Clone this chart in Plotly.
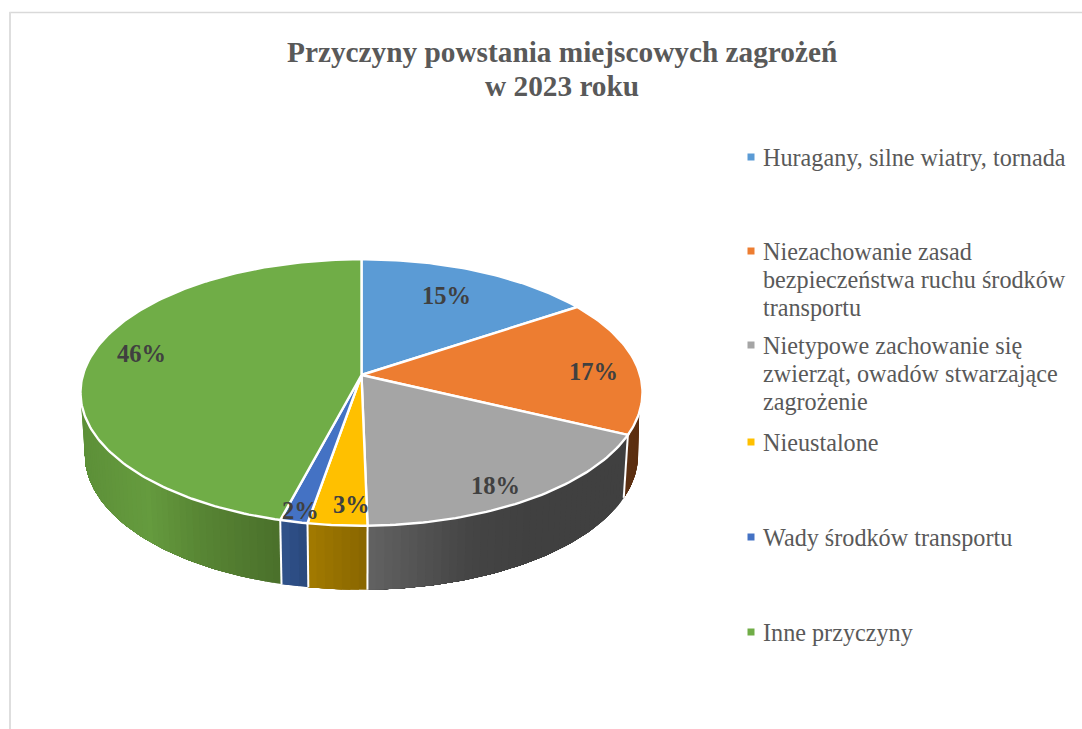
import math
import plotly.graph_objects as go

# ---- data ----
categories = ["Huragany, silne wiatry, tornada",
              "Niezachowanie zasad<br>bezpieczeństwa ruchu środków<br>transportu",
              "Nietypowe zachowanie się<br>zwierząt, owadów stwarzające<br>zagrożenie",
              "Nieustalone",
              "Wady środków transportu",
              "Inne przyczyny"]
percent_labels = [15, 17, 18, 3, 2, 46]
# slice shares as they appear in the drawing (the labels are the printed percentages)
values = [15.6, 16.5, 17.6, 3.0, 1.4, 45.9]
top_colors = ["#5B9BD5", "#ED7D31", "#A5A5A5", "#FFC000", "#4472C4", "#70AD47"]
# wall shading: (x pixel, colour) stops per slice
wall_stops = [
    [(361, (60, 100, 140))],
    [(625, (92, 48, 18)), (645, (92, 46, 15))],
    [(368, (98, 98, 98)), (470, (68, 68, 68)), (530, (64, 64, 64)), (630, (64, 64, 64))],
    [(310, (162, 122, 0)), (367, (136, 102, 0))],
    [(282, (48, 82, 140)), (310, (42, 72, 122))],
    [(81, (92, 143, 56)), (150, (101, 155, 62)), (200, (88, 134, 52)), (282, (74, 112, 43))],
]
label_pos = [(446, 295), (593, 371), (495, 485), (351, 504), (300, 510), (141, 353)]
legend_first_line_y = [157, 251, 345, 442, 537, 632]

# ---- projection of the pie disc to the page ----
CX, CY = 361.5, 375.0
C, A, K = -0.131, 131.0, 278.6
BX, BDY, BSY = 276.6 / 281.0, 62.5, 135.0 / 133.5
ELLIPSE_CY = 392.5


def top(theta):
    u, v = math.sin(math.radians(theta)), -math.cos(math.radians(theta))
    d = 1 + C * v
    return CX + K * u / d, CY + A * v / d


def bottom(theta):
    x, y = top(theta)
    return CX + (x - CX) * BX, ELLIPSE_CY + BDY + (y - ELLIPSE_CY) * BSY


def arc(fn, a, b, step=1.0):
    n = max(2, int(abs(b - a) / step) + 1)
    pts = [fn(a + (b - a) * i / (n - 1)) for i in range(n)]
    return [p[0] for p in pts], [p[1] for p in pts]


def shade(stops, x):
    if x <= stops[0][0]:
        c = stops[0][1]
    elif x >= stops[-1][0]:
        c = stops[-1][1]
    else:
        for (x0, c0), (x1, c1) in zip(stops, stops[1:]):
            if x0 <= x <= x1:
                t = (x - x0) / (x1 - x0)
                c = tuple(c0[i] + (c1[i] - c0[i]) * t for i in range(3))
                break
    return "rgb(%d,%d,%d)" % tuple(round(k) for k in c)


total = sum(values)
edges = [0.0]
for val in values:
    edges.append(edges[-1] + val / total * 360)

fig = go.Figure()
WALL_TOP = (106.2, 253.8)   # where the side wall emerges from under the disc
WALL_BOT = (97.5, 262.5)    # silhouette points of the lower rim

# side walls
for i in range(len(values)):
    a, b = edges[i], edges[i + 1]
    ta, tb = max(a, WALL_TOP[0]), min(b, WALL_TOP[1])
    ba, bb = max(a, WALL_BOT[0]), min(b, WALL_BOT[1])
    if tb <= ta:
        continue
    span = bb - ba
    n = max(1, int(span / 1.5))
    for k in range(n):
        # painter's algorithm: each strip reaches to the end of the slice
        sb = ba + span * k / n
        st = max(ta, sb)
        tx, ty = arc(top, st, tb)
        bx, by = arc(bottom, bb, sb)
        xm = bottom(sb + span / n / 2)[0]
        fig.add_trace(go.Scatter(x=tx + bx, y=ty + by, mode="lines", fill="toself",
                                 fillcolor=shade(wall_stops[i], xm), line=dict(width=0),
                                 hoverinfo="skip", showlegend=False))

# white seams between the side walls
for e in edges[1:-1]:
    if WALL_TOP[0] <= e <= WALL_TOP[1]:
        p, q = top(e), bottom(e)
        fig.add_trace(go.Scatter(x=[p[0], q[0]], y=[p[1], q[1]], mode="lines",
                                 line=dict(color="white", width=2),
                                 hoverinfo="skip", showlegend=False))

# top faces
for i, name in enumerate(categories):
    x, y = arc(top, edges[i], edges[i + 1])
    fig.add_trace(go.Scatter(x=[CX] + x + [CX], y=[CY] + y + [CY], mode="lines", fill="toself",
                             fillcolor=top_colors[i], line=dict(color="white", width=2.4),
                             name=name.replace("<br>", " "), hoverinfo="name", showlegend=False))

# legend swatches
fig.add_trace(go.Scatter(x=[751] * len(categories), y=legend_first_line_y, mode="markers",
                         marker=dict(symbol="square", size=7, color=top_colors),
                         hoverinfo="skip", showlegend=False))

annotations = []
for (lx, ly), v in zip(label_pos, percent_labels):
    annotations.append(dict(x=lx, y=ly, text=f"<b>{v}%</b>", showarrow=False, xanchor="center", yanchor="middle",
                            font=dict(family="Liberation Serif", size=24.5, color="#404040")))
for name, ly in zip(categories, legend_first_line_y):
    for j, line in enumerate(name.split("<br>")):
        annotations.append(dict(x=761, y=ly + j * 28, text=line, showarrow=False, xanchor="left", yanchor="middle",
                                font=dict(family="Liberation Serif", size=24.2, color="#595959")))
for text, ly in [("Przyczyny powstania miejscowych zagrożeń", 51.5), ("w 2023 roku", 85.5)]:
    annotations.append(dict(x=562, y=ly, text=f"<b>{text}</b>", showarrow=False, xanchor="center", yanchor="middle",
                            font=dict(family="Liberation Serif", size=29.3, color="#595959")))

fig.update_layout(
    width=1082, height=729, margin=dict(l=0, r=0, t=0, b=0),
    paper_bgcolor="white", plot_bgcolor="white",
    xaxis=dict(range=[0, 1082], visible=False, fixedrange=True),
    yaxis=dict(range=[729, 0], visible=False, fixedrange=True),
    annotations=annotations,
    shapes=[dict(type="line", xref="paper", yref="paper", x0=9.5 / 1082, x1=1, y0=1 - 12.5 / 729, y1=1 - 12.5 / 729,
                 line=dict(color="#D9D9D9", width=1.5)),
            dict(type="line", xref="paper", yref="paper", x0=10 / 1082, x1=10 / 1082, y0=0, y1=1 - 12 / 729,
                 line=dict(color="#DEDEDE", width=2))],
)
fig.write_html("out.html", config={"displayModeBar": False},
               post_script="document.body.style.margin='0';document.documentElement.style.overflow='hidden';")
